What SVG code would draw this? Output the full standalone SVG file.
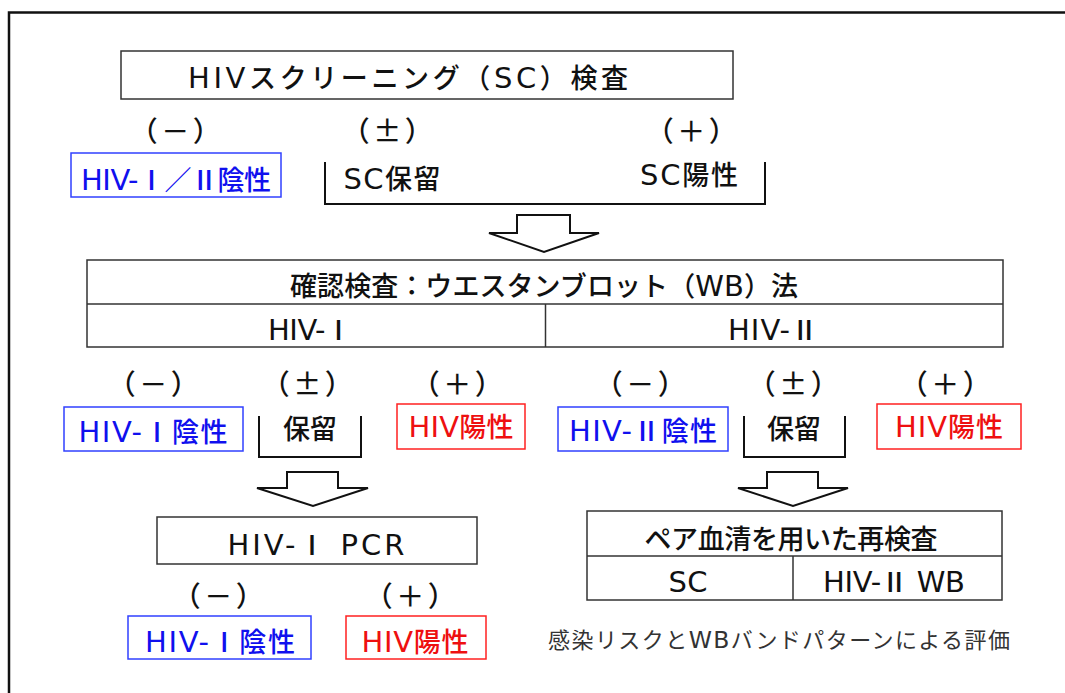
<svg xmlns="http://www.w3.org/2000/svg" width="1065" height="693" viewBox="0 0 1065 693">
<style>
text{font-family:"Noto Sans CJK JP","Noto Sans",sans-serif;font-size:27px;font-weight:500;text-anchor:middle;fill:#111}
.L{font-family:"DejaVu Sans","Liberation Sans",sans-serif;font-size:29px;font-weight:400}
.b{fill:#1010ee}
.r{fill:#ee1010}
.p{font-size:28px;letter-spacing:3.5px}
.box{fill:#fff;stroke:#333;stroke-width:1.5}
.bbox{fill:#fff;stroke:#3040ff;stroke-width:1.5}
.rbox{fill:#fff;stroke:#ff2020;stroke-width:1.5}
.br{fill:none;stroke:#111;stroke-width:2}
.ln{stroke:#333;stroke-width:1.5;fill:none}
.arr{fill:#fff;stroke:#111;stroke-width:2;stroke-linejoin:miter}
.cap{font-size:22px;font-weight:400;fill:#333}
.cap .L{font-size:23.5px}
</style>
<rect x="0" y="0" width="1065" height="693" fill="#fff"/>
<rect id="frame" x="9" y="12.5" width="1100" height="720" fill="none" stroke="#111" stroke-width="2.5"/>

<g id="sc-test">
<rect class="box" x="121" y="51" width="612" height="48"/>
<text x="408" y="88" font-size="28" textLength="440"><tspan class="L" font-size="31">HIV</tspan>スクリーニング（<tspan class="L" font-size="31">SC</tspan>）検査</text>
</g>
<g id="sc-labels">
<text class="p" x="177" y="142">（－）</text>
<text class="p" x="389" y="142">（±）</text>
<text class="p" x="693" y="142">（＋）</text>
</g>
<g id="sc-negative">
<rect class="bbox" x="71" y="153" width="210" height="44"/>
<text class="b" x="176" y="190" textLength="190"><tspan class="L">HIV-</tspan>Ⅰ／Ⅱ陰性</text>
</g>
<g id="sc-hold-pos">
<path class="br" d="M325,162 V204 H765 V162"/>
<text x="392" y="189" textLength="97"><tspan class="L">SC</tspan>保留</text>
<text x="689" y="185" textLength="98"><tspan class="L">SC</tspan>陽性</text>
</g>

<g id="wb-test">
<rect class="box" x="87" y="260" width="916" height="87"/>
<line class="ln" x1="87" y1="304" x2="1003" y2="304"/>
<line class="ln" x1="545.5" y1="304" x2="545.5" y2="347"/>
<text x="544" y="295.5" textLength="508">確認検査：ウエスタンブロット（<tspan class="L">WB</tspan>）法</text>
<text x="310" y="340" textLength="84"><tspan class="L">HIV-</tspan>Ⅰ</text>
<text x="773" y="340" textLength="90"><tspan class="L">HIV-</tspan>Ⅱ</text>
</g>

<g id="wb1-labels">
<text class="p" x="155" y="395">（－）</text>
<text class="p" x="309" y="395">（±）</text>
<text class="p" x="459" y="395">（＋）</text>
</g>
<g id="wb1-negative">
<rect class="bbox" x="64" y="407" width="179" height="44"/>
<text class="b" x="153" y="442" textLength="149"><tspan class="L">HIV-</tspan>Ⅰ陰性</text>
</g>
<g id="wb1-hold">
<path class="br" d="M259,416 V457 H361 V416"/>
<text x="310" y="438.5" textLength="54">保留</text>
</g>
<g id="wb1-positive">
<rect class="rbox" x="397" y="404" width="128" height="45"/>
<text class="r" x="461" y="437" textLength="105"><tspan class="L">HIV</tspan>陽性</text>
</g>

<g id="wb2-labels">
<text class="p" x="642" y="395">（－）</text>
<text class="p" x="795" y="395">（±）</text>
<text class="p" x="947" y="395">（＋）</text>
</g>
<g id="wb2-negative">
<rect class="bbox" x="558" y="407" width="170" height="44"/>
<text class="b" x="643" y="441" textLength="148"><tspan class="L">HIV-</tspan>Ⅱ陰性</text>
</g>
<g id="wb2-hold">
<path class="br" d="M744,416 V457 H845 V416"/>
<text x="794" y="438.5" textLength="54">保留</text>
</g>
<g id="wb2-positive">
<rect class="rbox" x="877" y="404" width="144" height="45"/>
<text class="r" x="949" y="437" textLength="108"><tspan class="L">HIV</tspan>陽性</text>
</g>

<g id="pcr">
<rect class="box" x="157" y="517" width="320" height="47"/>
<text x="316" y="555" textLength="177"><tspan class="L">HIV-</tspan>Ⅰ<tspan class="L"> PCR</tspan></text>
</g>
<g id="pcr-labels">
<text class="p" x="220" y="607">（－）</text>
<text class="p" x="412" y="607">（＋）</text>
</g>
<g id="pcr-negative">
<rect class="bbox" x="128" y="616" width="183" height="43"/>
<text class="b" x="220" y="652" textLength="150"><tspan class="L">HIV-</tspan>Ⅰ陰性</text>
</g>
<g id="pcr-positive">
<rect class="rbox" x="346" y="616" width="140" height="43"/>
<text class="r" x="415" y="652" textLength="107"><tspan class="L">HIV</tspan>陽性</text>
</g>

<g id="paired-retest">
<rect class="box" x="587" y="511" width="415" height="89"/>
<line class="ln" x1="587" y1="556" x2="1002" y2="556"/>
<line class="ln" x1="793" y1="556" x2="793" y2="600"/>
<text x="791" y="548.5" textLength="293">ペア血清を用いた再検査</text>
<text x="688" y="592" textLength="39"><tspan class="L">SC</tspan></text>
<text x="894" y="592" textLength="142"><tspan class="L">HIV-</tspan>Ⅱ<tspan class="L"> WB</tspan></text>
</g>
<g id="caption">
<text class="cap" x="779" y="648" textLength="462">感染リスクと<tspan class="L">WB</tspan>バンドパターンによる評価</text>
</g>

<g id="connectors">
<polygon class="arr" points="517,215 570,215 570,233 599,233 544,252 489,233 517,233"/>
<polygon class="arr" points="287,472 338,472 338,488 368,488 313,506 257,488 287,488"/>
<polygon class="arr" points="767,472 818,472 818,488 848,488 793,506 738,488 767,488"/>
</g>
</svg>
